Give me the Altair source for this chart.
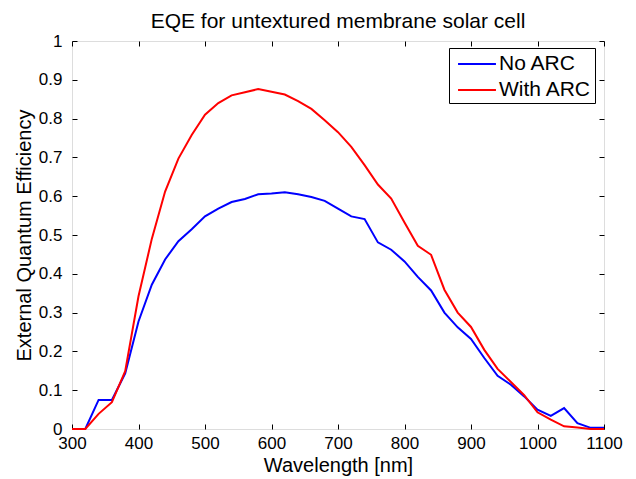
import altair as alt
import pandas as pd

wavelength = list(range(300, 1101, 20))
no_arc = [0.0, 0.0, 0.075, 0.075, 0.143, 0.277, 0.372, 0.437, 0.484, 0.515,
          0.548, 0.568, 0.585, 0.593, 0.605, 0.607, 0.610, 0.605, 0.598, 0.588,
          0.568, 0.548, 0.541, 0.481, 0.462, 0.432, 0.392, 0.357, 0.300, 0.262,
          0.232, 0.183, 0.137, 0.114, 0.084, 0.050, 0.034, 0.054, 0.015, 0.003,
          0.003]
with_arc = [0.0, 0.0, 0.039, 0.069, 0.149, 0.342, 0.490, 0.612, 0.697, 0.758,
            0.810, 0.840, 0.860, 0.868, 0.876, 0.869, 0.862, 0.845, 0.825, 0.796,
            0.765, 0.727, 0.680, 0.630, 0.594, 0.532, 0.472, 0.449, 0.359, 0.300,
            0.263, 0.204, 0.155, 0.121, 0.087, 0.043, 0.024, 0.007, 0.004, 0.0,
            0.0]
series_names = ["No ARC", "With ARC"]
series_colors = ["#0000FF", "#FF0000"]
x_ticks = list(range(300, 1101, 100))
y_ticks = [round(i * 0.1, 1) for i in range(11)]

df = pd.DataFrame({
    "wl": wavelength * 2,
    "eqe": no_arc + with_arc,
    "series": [series_names[0]] * len(wavelength) + [series_names[1]] * len(wavelength),
})

W, H = 532, 388
FONT = "Liberation Sans"


def xscale():
    return alt.Scale(domain=[300, 1100], nice=False, zero=False)


def yscale():
    return alt.Scale(domain=[0, 1], nice=False, zero=False)


base = alt.Chart(df)

lines = base.mark_line(strokeWidth=2).encode(
    x=alt.X("wl:Q", scale=xscale(), axis=alt.Axis(
        title="Wavelength [nm]", values=x_ticks, format="d", ticks=False, tickSize=0,
        domain=False, grid=False, labelFontSize=17, labelFont=FONT, labelColor="black",
        labelPadding=6, titleFontSize=20, titleFont=FONT, titleFontWeight="normal",
        titleColor="black", titlePadding=4, labelFlush=False)),
    y=alt.Y("eqe:Q", scale=yscale(), axis=alt.Axis(
        title="External Quantum Efficiency", values=y_ticks, format="~g", ticks=False,
        tickSize=0, domain=False, grid=False, labelFontSize=17, labelFont=FONT,
        labelColor="black", labelPadding=10, titleFontSize=20, titleFont=FONT,
        titleFontWeight="normal", titleColor="black", titlePadding=4, labelFlush=False)),
    color=alt.Color("series:N", scale=alt.Scale(domain=series_names, range=series_colors),
                    legend=alt.Legend(title=None, orient="none", legendX=377, legendY=7,
                                      symbolType="M-1.58,0H1.58", symbolSize=576,
                                      symbolStrokeWidth=2, symbolOffset=12,
                                      labelFontSize=21, labelFont=FONT,
                                      labelColor="black", labelOffset=9, padding=3,
                                      strokeColor="black", fillColor="white",
                                      rowPadding=3)),
)


def tick_axis_x(orient):
    return alt.Axis(orient=orient, offset=-H, labels=False, title=None, ticks=True,
                    tickSize=5, tickColor="black", tickWidth=1, domain=False, grid=False,
                    values=x_ticks, minExtent=0)


def tick_axis_y(orient):
    return alt.Axis(orient=orient, offset=-W, labels=False, title=None, ticks=True,
                    tickSize=5, tickColor="black", tickWidth=1, domain=False, grid=False,
                    values=y_ticks, minExtent=0)


ticks_a = base.mark_line(strokeOpacity=0).encode(
    x=alt.X("wl:Q", scale=xscale(), axis=tick_axis_x("top")),
    y=alt.Y("eqe:Q", scale=yscale(), axis=tick_axis_y("right")),
    detail="series:N",
)
ticks_b = base.mark_line(strokeOpacity=0).encode(
    x=alt.X("wl:Q", scale=xscale(), axis=tick_axis_x("bottom")),
    y=alt.Y("eqe:Q", scale=yscale(), axis=tick_axis_y("left")),
    detail="series:N",
)

chart = alt.layer(lines, ticks_a, ticks_b).resolve_scale(
    x="independent", y="independent"
).properties(
    width=W, height=H,
    title=alt.TitleParams("EQE for untextured membrane solar cell", fontSize=21, font=FONT,
                          fontWeight="normal", color="black", offset=0, anchor="middle"),
    autosize=alt.AutoSizeParams(type="none"),
    padding={"left": 64, "top": 33, "right": 24, "bottom": 50},
).configure_view(stroke="black", strokeWidth=1.5).configure(background="white")

chart.save("out.html", embed_options={"renderer": "svg", "actions": False})
